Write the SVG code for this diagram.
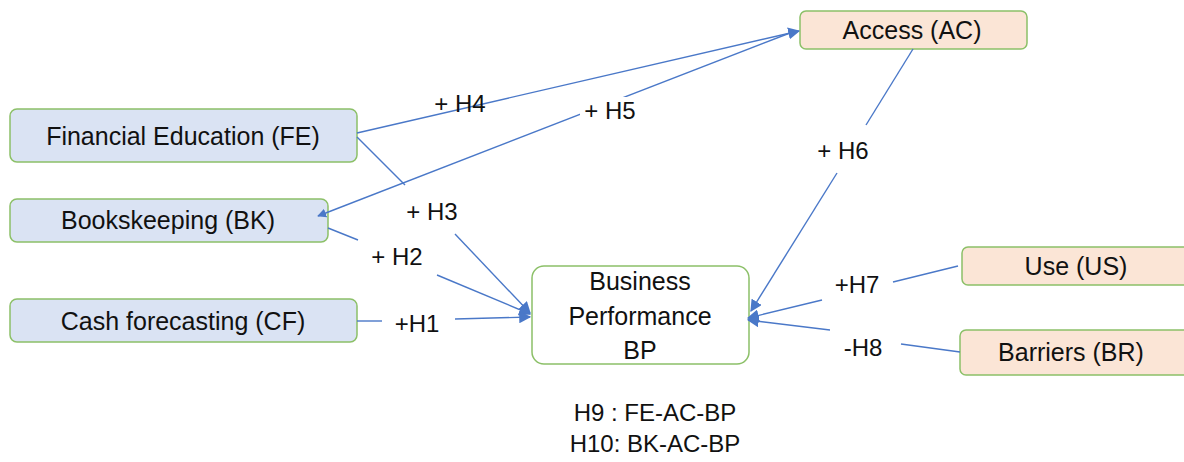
<svg xmlns="http://www.w3.org/2000/svg" width="1184" height="462" viewBox="0 0 1184 462">
<style>
.box{stroke:#8cc068;stroke-width:1.5}
.blue{fill:#dae3f3}
.peach{fill:#fbe5d6}
.white{fill:#ffffff}
text{font-family:"Liberation Sans",Arial,sans-serif;font-size:25px;fill:#111;text-anchor:middle;dominant-baseline:central}
.lbl{font-size:24px}
.c{stroke:#4a78c8;stroke-width:1.4;fill:none}
</style>
<defs>
<marker id="ah" viewBox="0 0 10 10" refX="9" refY="5" markerWidth="9" markerHeight="9" markerUnits="userSpaceOnUse" orient="auto"><path d="M0,0 L10,5 L0,10 z" fill="#4a78c8"/></marker>
<marker id="ahs" viewBox="0 0 10 10" refX="9" refY="5" markerWidth="12" markerHeight="12" markerUnits="userSpaceOnUse" orient="auto"><path d="M0,0 L10,5 L0,10 z" fill="#4a78c8"/></marker>
</defs>
<rect width="1184" height="462" fill="#ffffff"/>
<g id="node-FE"><rect class="box blue" x="10" y="109" width="347" height="53" rx="7"/><text x="183" y="136">Financial Education (FE)</text></g>
<g id="node-BK"><rect class="box blue" x="10" y="199" width="318" height="43" rx="7"/><text x="168" y="220">Bookskeeping (BK)</text></g>
<g id="node-CF"><rect class="box blue" x="10" y="299" width="347" height="43" rx="7"/><text x="183" y="321">Cash forecasting (CF)</text></g>
<g id="node-BP"><rect class="box white" x="532" y="266" width="217" height="98" rx="12"/><text x="640" y="281">Business</text><text x="640" y="316">Performance</text><text x="640" y="350">BP</text></g>
<g id="node-AC"><rect class="box peach" x="800" y="11" width="227" height="38" rx="6"/><text x="912" y="30">Access (AC)</text></g>
<g id="node-US"><rect class="box peach" x="962" y="247" width="230" height="38" rx="6"/><text x="1076" y="266">Use (US)</text></g>
<g id="node-BR"><rect class="box peach" x="960" y="330" width="232" height="45" rx="6"/><text x="1071" y="352">Barriers (BR)</text></g>
<g id="connectors">
<line class="c" x1="357" y1="133" x2="799" y2="31" marker-end="url(#ahs)"/>
<line class="c" x1="790" y1="33" x2="318" y2="216" marker-end="url(#ah)"/>
<path class="c" d="M357,137 L405,185"/>
<line class="c" x1="455" y1="234" x2="530" y2="313" marker-end="url(#ahs)"/>
<path class="c" d="M328,228 L358,240"/>
<line class="c" x1="437" y1="275" x2="530" y2="314" marker-end="url(#ahs)"/>
<path class="c" d="M357,321 L382,321"/>
<line class="c" x1="455" y1="319" x2="530" y2="317" marker-end="url(#ahs)"/>
<path class="c" d="M913,49 L866,125"/>
<line class="c" x1="837" y1="173" x2="751" y2="311" marker-end="url(#ahs)"/>
<path class="c" d="M958,266 L893,282"/>
<line class="c" x1="822" y1="300" x2="748" y2="318" marker-end="url(#ahs)"/>
<path class="c" d="M960,352 L901,344"/>
<line class="c" x1="830" y1="330" x2="748" y2="320" marker-end="url(#ahs)"/>
</g>
<g id="labels">
<text class="lbl" x="460" y="103">+ H4</text>
<rect x="580" y="97" width="60" height="26" fill="#ffffff"/>
<text class="lbl" x="610" y="110">+ H5</text>
<text class="lbl" x="432" y="211">+ H3</text>
<text class="lbl" x="397" y="256">+ H2</text>
<text class="lbl" x="417" y="323">+H1</text>
<text class="lbl" x="843" y="150">+ H6</text>
<text class="lbl" x="857" y="284">+H7</text>
<text class="lbl" x="863" y="347">-H8</text>
<text class="lbl" x="655" y="412">H9 : FE-AC-BP</text>
<text class="lbl" x="655" y="443">H10: BK-AC-BP</text>
</g>
</svg>
